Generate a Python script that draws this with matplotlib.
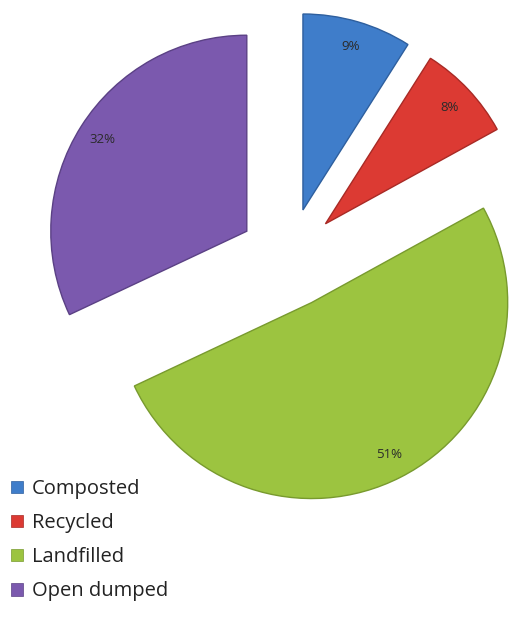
import matplotlib
matplotlib.use("Agg")
import matplotlib.pyplot as plt

# waste disposal shares (%)
categories = ["Composted", "Recycled", "Landfilled", "Open dumped"]
shares = [9, 8, 51, 32]

colors = ["#3f7dca", "#dc3a33", "#9cc440", "#7b59ae"]
edges = ["#2e5f9e", "#a82a25", "#789a2e", "#5b4185"]

W, H = 511, 621
R_PX = 196.0
CX, CY = 289.0, 258.0

fig = plt.figure(figsize=(W / 100, H / 100), dpi=100)
ax = fig.add_axes([0, 0, 1, 1])

wedges, texts = ax.pie(
    shares,
    explode=[0.255] * len(shares),
    colors=colors,
    startangle=90,
    counterclock=False,
    radius=1.0,
    labels=[f"{v}%" for v in shares],
    labeldistance=0.87,
    textprops=dict(fontsize=9.5, color="#2b2b2b", family=["Open Sans", "DejaVu Sans"]),
    wedgeprops=dict(linewidth=1.0),
)
for w, ec in zip(wedges, edges):
    w.set_edgecolor(ec)
for t in texts:
    t.set_horizontalalignment("center")
    t.set_verticalalignment("center")

ax.set_xlim(-CX / R_PX, (W - CX) / R_PX)
ax.set_ylim(-(H - CY) / R_PX, CY / R_PX)
ax.set_aspect("equal")
ax.axis("off")

# legend down the lower left corner
fs = 14.5
leg = fig.legend(
    wedges, categories,
    loc="upper left",
    bbox_to_anchor=(11 / W, 1 - 479 / H),
    frameon=False,
    handlelength=0.6,
    handleheight=0.6,
    handletextpad=0.45,
    labelspacing=0.70,
    borderpad=0,
    borderaxespad=0,
    prop=dict(family=["Open Sans", "DejaVu Sans"], size=fs),
)
for t in leg.get_texts():
    t.set_color("#222222")
for h in leg.legend_handles:
    h.set_linewidth(0.5)

fig.savefig("out.png", dpi=100, facecolor="white")
